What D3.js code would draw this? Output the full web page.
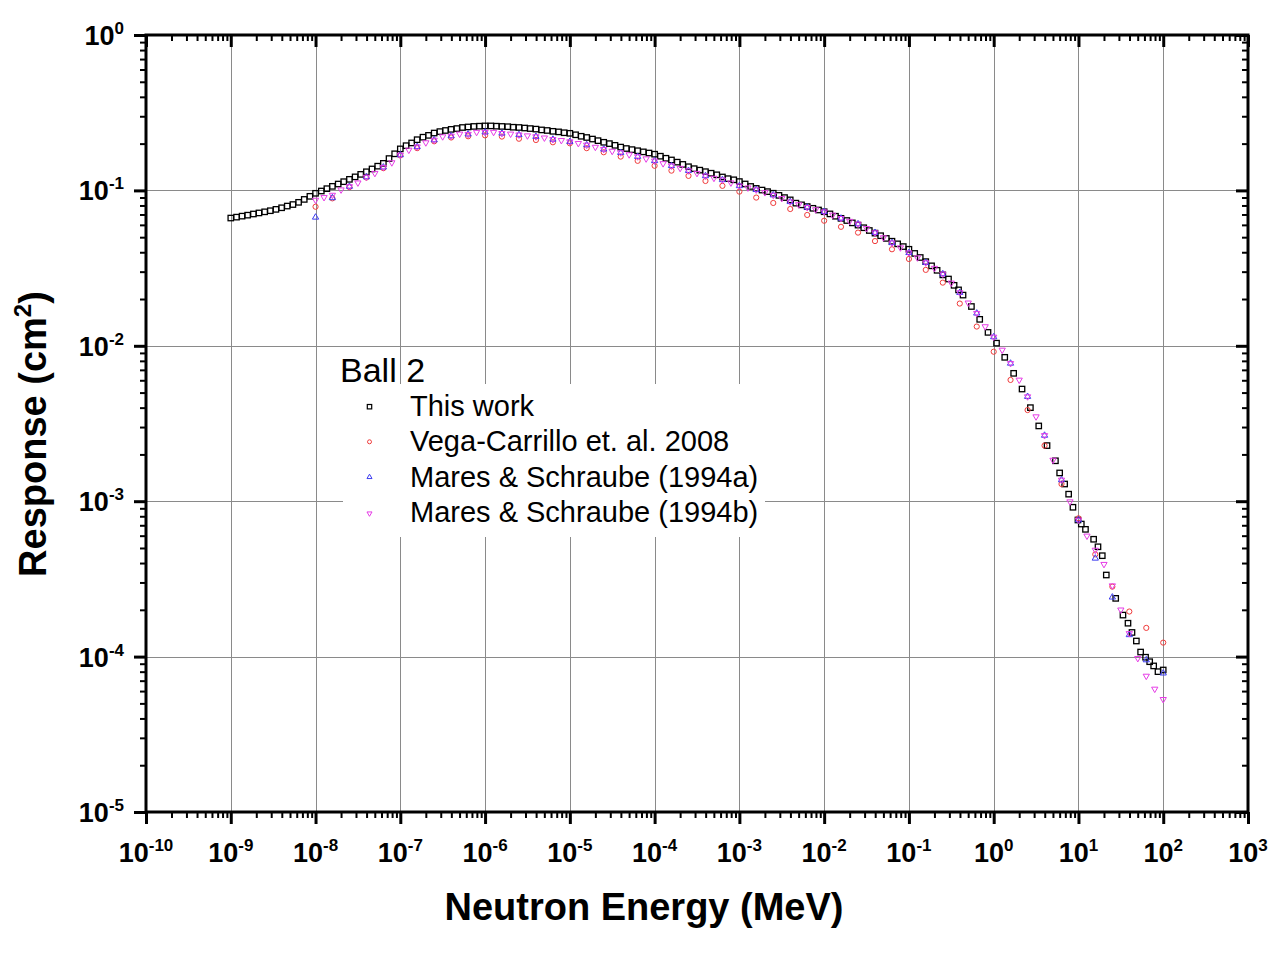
<!DOCTYPE html>
<html>
<head>
<meta charset="utf-8">
<script src="https://cdn.jsdelivr.net/npm/d3@7"></script>
<style>
  body { margin: 0; background: #fff; }
  text { font-family: "Liberation Sans", Arial, sans-serif; }
</style>
</head>
<body>
<div id="chart"></div>
<script>
// ---- data ----
const workE = [
  1.00e-9,1.17e-9,1.36e-9,1.58e-9,1.85e-9,2.15e-9,2.51e-9,2.93e-9,3.41e-9,3.98e-9,4.64e-9,5.41e-9,6.31e-9,7.36e-9,8.58e-9,
  1.00e-8,1.17e-8,1.36e-8,1.58e-8,1.85e-8,2.15e-8,2.51e-8,2.93e-8,3.41e-8,3.98e-8,4.64e-8,5.41e-8,6.31e-8,7.36e-8,8.58e-8,
  1.00e-7,1.17e-7,1.36e-7,1.58e-7,1.85e-7,2.15e-7,2.51e-7,2.93e-7,3.41e-7,3.98e-7,4.64e-7,5.41e-7,6.31e-7,7.36e-7,8.58e-7,
  1.00e-6,1.17e-6,1.36e-6,1.58e-6,1.85e-6,2.15e-6,2.51e-6,2.93e-6,3.41e-6,3.98e-6,4.64e-6,5.41e-6,6.31e-6,7.36e-6,8.58e-6,
  1.00e-5,1.17e-5,1.36e-5,1.58e-5,1.85e-5,2.15e-5,2.51e-5,2.93e-5,3.41e-5,3.98e-5,4.64e-5,5.41e-5,6.31e-5,7.36e-5,8.58e-5,
  1.00e-4,1.17e-4,1.36e-4,1.58e-4,1.85e-4,2.15e-4,2.51e-4,2.93e-4,3.41e-4,3.98e-4,4.64e-4,5.41e-4,6.31e-4,7.36e-4,8.58e-4,
  1.00e-3,1.17e-3,1.36e-3,1.58e-3,1.85e-3,2.15e-3,2.51e-3,2.93e-3,3.41e-3,3.98e-3,4.64e-3,5.41e-3,6.31e-3,7.36e-3,8.58e-3,
  1.00e-2,1.17e-2,1.36e-2,1.58e-2,1.85e-2,2.15e-2,2.51e-2,2.93e-2,3.41e-2,3.98e-2,4.64e-2,5.41e-2,6.31e-2,7.36e-2,8.58e-2,
  0.100,0.117,0.136,0.158,0.185,0.215,0.251,0.293,0.341,
  0.385,0.435,0.546,0.684,0.857,1.08,1.35,1.72,2.16,2.71,
  3.40,4.26,5.35,6.00,6.87,7.66,8.61,9.86,10.8,12.1,
  15.1,17.0,19.1,21.3,27.5,33.5,38.4,42.8,48.2,54.1,
  61.9,69.2,77.1,86.7,100
];
const workR = [
  0.0664,0.0673,0.0683,0.0693,0.0705,0.0716,0.0728,0.0740,0.0755,0.0773,0.0793,0.0811,0.0838,0.0875,0.0916,
  0.0958,0.0991,0.1026,0.1062,0.1099,0.1138,0.1178,0.1222,0.1268,0.1318,0.1374,0.1432,0.1493,0.1603,0.172,
  0.185,0.194,0.202,0.212,0.220,0.226,0.234,0.239,0.243,0.247,0.250,0.254,0.256,0.258,0.259,
  0.260,0.260,0.259,0.258,0.257,0.255,0.254,0.252,0.250,0.248,0.245,0.243,0.240,0.238,0.235,
  0.233,0.228,0.223,0.219,0.214,0.209,0.204,0.200,0.195,0.190,0.186,0.183,0.180,0.177,0.174,
  0.171,0.166,0.161,0.157,0.152,0.147,0.142,0.138,0.135,0.132,0.129,0.126,0.122,0.119,0.117,
  0.114,0.110,0.106,0.103,0.1005,0.0982,0.0959,0.0929,0.0899,0.0869,0.0828,0.0807,0.0787,0.0767,0.0748,
  0.0729,0.0706,0.0682,0.0661,0.0640,0.0618,0.0598,0.0575,0.0552,0.0531,0.0511,0.0491,0.0471,0.0453,0.0435,
  0.0418,0.0393,0.0370,0.0348,0.0327,0.0306,0.0286,0.0269,0.0245,
  0.0229,0.0212,0.0179,0.0148,0.0122,0.0104,0.00843,0.00665,0.00527,0.00400,
  0.00305,0.00228,0.00182,0.00152,0.00129,0.00111,0.000914,0.000757,0.000713,0.000659,
  0.000569,0.000509,0.000446,0.000335,0.000237,0.000185,0.000164,0.000143,0.000126,0.000107,
  0.0000991,0.0000927,0.0000871,0.0000800,0.0000820
];

// energies shared by Vega-Carrillo and Mares & Schraube (1994a)
const fifthE = [
  1e-8,1.58e-8,2.51e-8,3.98e-8,6.31e-8,
  1e-7,1.58e-7,2.51e-7,3.98e-7,6.31e-7,
  1e-6,1.58e-6,2.51e-6,3.98e-6,6.31e-6,
  1e-5,1.58e-5,2.51e-5,3.98e-5,6.31e-5,
  1e-4,1.58e-4,2.51e-4,3.98e-4,6.31e-4,
  1e-3,1.58e-3,2.51e-3,3.98e-3,6.31e-3,
  1e-2,1.58e-2,2.51e-2,3.98e-2,6.31e-2,
  0.1,0.158,0.251,0.398,0.631,
  1,1.58,2.51,3.98,6.31,
  10,15.8,25.1,39.8,63.1,
  100
];
const vegaR = [
  0.0785,0.0889,0.105,0.121,0.139,
  0.168,0.187,0.207,0.219,0.223,
  0.226,0.222,0.215,0.211,0.204,
  0.201,0.187,0.176,0.165,0.155,
  0.144,0.134,0.124,0.115,0.107,
  0.0982,0.0899,0.0830,0.0759,0.0695,
  0.0638,0.0583,0.0535,0.0472,0.0418,
  0.0362,0.0308,0.0255,0.0187,0.0133,
  0.00916,0.00603,0.00386,0.00228,0.00129,
  0.000776,0.000455,0.000282,0.000195,0.000153,
  0.000123
];
const maresAR = [
  0.0671,0.0895,0.106,0.122,0.141,
  0.169,0.191,0.211,0.224,0.230,
  0.237,0.233,0.228,0.222,0.213,
  0.206,0.196,0.184,0.175,0.165,
  0.155,0.144,0.134,0.124,0.117,
  0.107,0.101,0.0933,0.0845,0.0778,
  0.0729,0.0661,0.0608,0.0535,0.0460,
  0.0397,0.0343,0.0290,0.0220,0.0162,
  0.0114,0.00771,0.00471,0.00265,0.00137,
  0.000757,0.000429,0.000241,0.000138,0.0000951,
  0.0000782
];

const tenthE = [
  1e-8,1.26e-8,1.58e-8,2e-8,2.51e-8,3.16e-8,3.98e-8,5.01e-8,6.31e-8,7.94e-8,
  1e-7,1.26e-7,1.58e-7,2e-7,2.51e-7,3.16e-7,3.98e-7,5.01e-7,6.31e-7,7.94e-7,
  1e-6,1.26e-6,1.58e-6,2e-6,2.51e-6,3.16e-6,3.98e-6,5.01e-6,6.31e-6,7.94e-6,
  1e-5,1.26e-5,1.58e-5,2e-5,2.51e-5,3.16e-5,3.98e-5,5.01e-5,6.31e-5,7.94e-5,
  1e-4,1.26e-4,1.58e-4,2e-4,2.51e-4,3.16e-4,3.98e-4,5.01e-4,6.31e-4,7.94e-4,
  1e-3,1.26e-3,1.58e-3,2e-3,2.51e-3,3.16e-3,3.98e-3,5.01e-3,6.31e-3,7.94e-3,
  1e-2,1.26e-2,1.58e-2,2e-2,2.51e-2,3.16e-2,3.98e-2,5.01e-2,6.31e-2,7.94e-2,
  0.1,0.126,0.158,0.2,0.251,0.316,0.398,0.501,0.631,0.794,
  1,1.26,1.58,2,2.51,3.16,3.98,5.01,6.31,7.94,
  10,12.6,15.8,20,25.1,31.6,39.8,50.1,63.1,79.4,
  100
];
const maresBR = [
  0.0867,0.0902,0.0933,0.101,0.106,0.112,0.122,0.129,0.141,0.151,
  0.169,0.182,0.191,0.203,0.211,0.222,0.224,0.231,0.230,0.237,
  0.237,0.237,0.233,0.231,0.228,0.225,0.222,0.218,0.213,0.210,
  0.206,0.201,0.196,0.190,0.184,0.179,0.175,0.170,0.165,0.160,
  0.155,0.149,0.144,0.139,0.134,0.129,0.124,0.120,0.117,0.112,
  0.107,0.104,0.101,0.0970,0.0933,0.0889,0.0845,0.0811,0.0778,0.0753,
  0.0729,0.0695,0.0661,0.0634,0.0608,0.0570,0.0535,0.0497,0.0460,0.0428,
  0.0397,0.0369,0.0343,0.0316,0.0290,0.0254,0.0220,0.0189,0.0162,0.0133,
  0.0114,0.00940,0.00771,0.00603,0.00471,0.00350,0.00265,0.00184,0.00137,0.000993,
  0.000757,0.000598,0.000485,0.000393,0.000286,0.000200,0.000141,0.0000975,0.0000750,0.0000619,
  0.0000531
];

const xExps = [-10,-9,-8,-7,-6,-5,-4,-3,-2,-1,0,1,2,3];
const yExps = [-5,-4,-3,-2,-1,0];
const legendTitle = "Ball 2";
const seriesNames = ["This work", "Vega-Carrillo et. al. 2008", "Mares & Schraube (1994a)", "Mares & Schraube (1994b)"];

// ---- layout ----
const W = 1278, H = 977;
const m = { left: 146, right: 1248, top: 35, bottom: 812 };

const svg = d3.select('#chart').append('svg')
  .attr('width', W).attr('height', H)
  .style('background', '#fff');

const x = d3.scaleLog().domain([1e-10, 1e3]).range([m.left, m.right]);
const y = d3.scaleLog().domain([1e-5, 1]).range([m.bottom, m.top]);

const xMajor = xExps.map(e => Math.pow(10, e));
const yMajor = yExps.map(e => Math.pow(10, e));
const minorOf = exps => {
  const out = [];
  exps.slice(0, -1).forEach(e => { for (let k = 2; k <= 9; k++) out.push(k * Math.pow(10, e)); });
  return out;
};
const xMinor = minorOf(xExps);
const yMinor = minorOf(yExps);

// grid
const grid = svg.append('g').attr('stroke', '#8a8a8a').attr('stroke-width', 1);
grid.selectAll('.gx').data(xMajor.slice(1, -1)).join('line')
  .attr('x1', d => Math.round(x(d)) + 0.5).attr('x2', d => Math.round(x(d)) + 0.5)
  .attr('y1', m.top).attr('y2', m.bottom);
grid.selectAll('.gy').data(yMajor.slice(1, -1)).join('line')
  .attr('y1', d => Math.round(y(d)) + 0.5).attr('y2', d => Math.round(y(d)) + 0.5)
  .attr('x1', m.left).attr('x2', m.right);

// legend background (hides grid behind entries)
svg.append('rect').attr('x', 343).attr('y', 384).attr('width', 422).attr('height', 153).attr('fill', '#fff');

// ---- data marks ----
const zip = (E, R) => E.map((e, i) => ({ e: e, r: R[i] }));
const work = zip(workE, workR);
const vega = zip(fifthE, vegaR);
const maresA = zip(fifthE, maresAR);
const maresB = zip(tenthE, maresBR);

const plot = svg.append('g');
plot.append('g').selectAll('rect').data(work).join('rect')
  .attr('x', d => x(d.e) - 2.7).attr('y', d => y(d.r) - 2.7)
  .attr('width', 5.4).attr('height', 5.4)
  .attr('fill', 'none').attr('stroke', '#000').attr('stroke-width', 1.3);

plot.append('g').selectAll('circle').data(vega).join('circle')
  .attr('cx', d => x(d.e)).attr('cy', d => y(d.r)).attr('r', 2.6)
  .attr('fill', 'none').attr('stroke', '#f03c3c').attr('stroke-width', 1);

const tri = d3.symbol().type(d3.symbolTriangle).size(17);
plot.append('g').selectAll('path').data(maresA).join('path')
  .attr('d', tri)
  .attr('transform', d => `translate(${x(d.e)},${y(d.r)})`)
  .attr('fill', 'none').attr('stroke', '#3c3cf0').attr('stroke-width', 1);

plot.append('g').selectAll('path').data(maresB).join('path')
  .attr('d', tri)
  .attr('transform', d => `translate(${x(d.e)},${y(d.r)}) rotate(180)`)
  .attr('fill', 'none').attr('stroke', '#e63ce6').attr('stroke-width', 1);

// ---- axes ----
function drawAxis(axisFn, scale, values, size, width, tx, ty) {
  const g = svg.append('g')
    .attr('transform', `translate(${tx},${ty})`)
    .call(axisFn(scale).tickValues(values).tickSize(size).tickSizeOuter(0).tickFormat(''));
  g.select('.domain').remove();
  g.selectAll('.tick line').attr('stroke', '#000').attr('stroke-width', width);
  return g;
}
// bottom & left: outward ticks; top & right: inward ticks
drawAxis(d3.axisBottom, x, xMinor, 6, 2, 0, m.bottom);
drawAxis(d3.axisBottom, x, xMajor, 12, 3, 0, m.bottom);
drawAxis(d3.axisTop, x, xMinor, -6, 2, 0, m.top);
drawAxis(d3.axisTop, x, xMajor, -12, 3, 0, m.top);
drawAxis(d3.axisLeft, y, yMinor, 6, 2, m.left, 0);
drawAxis(d3.axisLeft, y, yMajor, 12, 3, m.left, 0);
drawAxis(d3.axisRight, y, yMinor, -6, 2, m.right, 0);
drawAxis(d3.axisRight, y, yMajor, -12, 3, m.right, 0);

svg.append('rect')
  .attr('x', m.left).attr('y', m.top)
  .attr('width', m.right - m.left).attr('height', m.bottom - m.top)
  .attr('fill', 'none').attr('stroke', '#000').attr('stroke-width', 3);

// tick labels as 10^n
const xl = svg.append('g').attr('font-weight', 'bold').attr('font-size', 27);
xExps.forEach(e => {
  const t = xl.append('text').attr('x', x(Math.pow(10, e))).attr('y', 862).attr('text-anchor', 'middle');
  t.append('tspan').text('10');
  t.append('tspan').attr('font-size', 17).attr('dy', -11).text(String(e));
});
const yl = svg.append('g').attr('font-weight', 'bold').attr('font-size', 27);
yExps.forEach(e => {
  const t = yl.append('text').attr('x', 124).attr('y', y(Math.pow(10, e)) + 10).attr('text-anchor', 'end');
  t.append('tspan').text('10');
  t.append('tspan').attr('font-size', 17).attr('dy', -11).text(String(e));
});

// axis titles
svg.append('text')
  .attr('x', 644).attr('y', 920).attr('text-anchor', 'middle')
  .attr('font-weight', 'bold').attr('font-size', 38)
  .text('Neutron Energy (MeV)');

const yt = svg.append('text')
  .attr('transform', 'translate(46,434) rotate(-90)')
  .attr('text-anchor', 'middle')
  .attr('font-weight', 'bold').attr('font-size', 38);
yt.append('tspan').text('Response (cm');
yt.append('tspan').attr('font-size', 24).attr('dy', -15).text('2');
yt.append('tspan').attr('dy', 15).text(')');

// ---- legend ----
svg.append('text').attr('x', 340).attr('y', 382).attr('font-size', 34).text(legendTitle);
const lg = svg.append('g');
const legRows = seriesNames.map((name, i) => ({ name: name, i: i, by: 416 + i * 35.3 }));
lg.selectAll('text').data(legRows).join('text')
  .attr('x', 410).attr('y', d => d.by).attr('font-size', 29).text(d => d.name);

const lx = 369.5;
const legTri = d3.symbol().type(d3.symbolTriangle).size(11);
lg.append('rect').attr('x', lx - 2.2).attr('y', legRows[0].by - 11.5).attr('width', 4.4).attr('height', 4.4)
  .attr('fill', 'none').attr('stroke', '#000').attr('stroke-width', 1.2);
lg.append('circle').attr('cx', lx).attr('cy', legRows[1].by - 9.5).attr('r', 2)
  .attr('fill', 'none').attr('stroke', '#f03c3c').attr('stroke-width', 1);
lg.append('path').attr('d', legTri).attr('transform', `translate(${lx},${legRows[2].by - 9.5})`)
  .attr('fill', 'none').attr('stroke', '#3c3cf0').attr('stroke-width', 1);
lg.append('path').attr('d', legTri).attr('transform', `translate(${lx},${legRows[3].by - 8.5}) rotate(180)`)
  .attr('fill', 'none').attr('stroke', '#e63ce6').attr('stroke-width', 1);
</script>
</body>
</html>
